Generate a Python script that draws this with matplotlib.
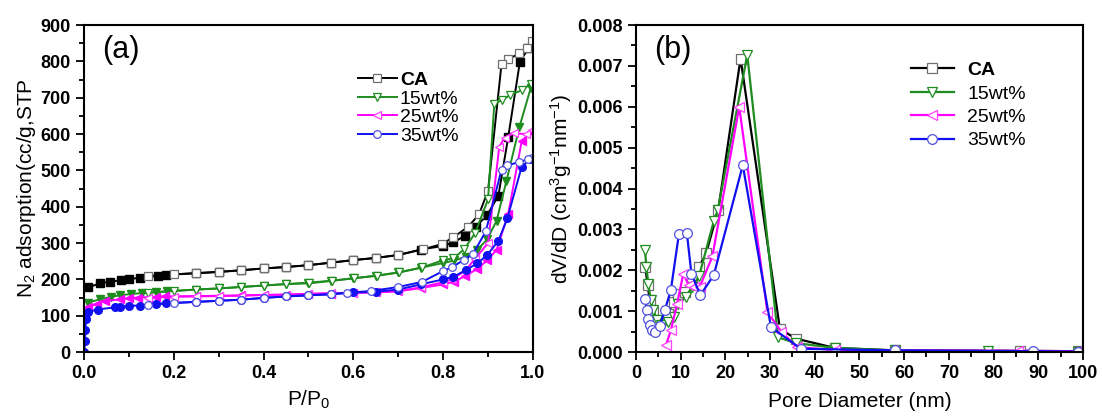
import matplotlib
matplotlib.use("Agg")
import matplotlib.pyplot as plt
import matplotlib.ticker as mticker

plt.rcParams['font.family'] = ['Liberation Sans', 'DejaVu Sans']
plt.rcParams['mathtext.fontset'] = 'custom'
plt.rcParams['mathtext.rm'] = 'Liberation Sans'
plt.rcParams['mathtext.it'] = 'Liberation Sans:italic'
plt.rcParams['mathtext.bf'] = 'Liberation Sans:bold'
plt.rcParams['mathtext.default'] = 'regular'

# ---- (a) isotermas N2: adsorcion (relleno) y desorcion (abierto) ----
mid_x = [0.25, 0.30, 0.35, 0.40, 0.45, 0.50, 0.55, 0.60, 0.65, 0.70, 0.75]

ca_ads_x = [0.01, 0.035, 0.057, 0.083, 0.10, 0.125, 0.164, 0.183] + mid_x + \
    [0.80, 0.823, 0.849, 0.873, 0.898, 0.923, 0.945, 0.971, 0.99]
ca_ads_y = [178, 189, 193, 198, 200, 205, 209, 212,
            217, 221, 225, 230, 234, 239, 246, 253, 259, 267, 282,
            292, 302, 320, 345, 377, 430, 592, 799, 836]
ca_des_x = [0.998, 0.987, 0.970, 0.945, 0.930, 0.90, 0.88, 0.856, 0.823, 0.797, 0.756,
            0.70, 0.65, 0.60, 0.55, 0.50, 0.45, 0.40, 0.35, 0.30, 0.25, 0.20, 0.143]
ca_des_y = [857, 838, 822, 806, 792, 444, 379, 345, 316, 297, 283,
            267, 259, 253, 246, 239, 234, 230, 225, 220, 217, 214, 209]

w15_ads_x = [0.01, 0.035, 0.06, 0.08, 0.105, 0.13, 0.16, 0.185] + mid_x + \
    [0.80, 0.825, 0.85, 0.875, 0.898, 0.919, 0.941, 0.97, 0.995]
w15_ads_y = [136, 145, 152, 156, 160, 162, 165, 167,
             172, 175, 179, 183, 187, 191, 196, 203, 210, 219, 232,
             245, 252, 262, 280, 310, 361, 471, 620, 726]
w15_des_x = [0.996, 0.976, 0.949, 0.931, 0.914, 0.90, 0.871, 0.847, 0.823, 0.80, 0.754,
             0.702, 0.653, 0.602, 0.552, 0.502, 0.45, 0.40, 0.35, 0.30, 0.25, 0.20, 0.143]
w15_des_y = [739, 721, 707, 693, 684, 420, 327, 283, 258, 253, 233,
             219, 210, 203, 196, 189, 187, 183, 179, 175, 172, 168, 163]

w25_ads_x = [0.01, 0.03, 0.046, 0.08, 0.10, 0.12, 0.16, 0.18] + mid_x + \
    [0.80, 0.825, 0.849, 0.875, 0.898, 0.919, 0.945, 0.975, 0.995]
w25_ads_y = [125, 133, 140, 145, 148, 150, 152, 153,
             154, 155, 156, 157, 158, 160, 161, 163, 164, 167, 176,
             186, 194, 209, 228, 252, 281, 380, 581, 605]
w25_des_x = [0.997, 0.984, 0.957, 0.937, 0.925, 0.90, 0.87, 0.85, 0.82, 0.80, 0.75,
             0.70, 0.65, 0.60, 0.55, 0.50, 0.45, 0.40, 0.35, 0.30, 0.25, 0.20, 0.143]
w25_des_y = [611, 600, 602, 590, 565, 300, 255, 225, 200, 192, 178,
             168, 164, 163, 162, 160, 158, 157, 155, 154, 153, 152, 150]

w35_ads_x = [0.001, 0.002, 0.003, 0.005, 0.01, 0.031, 0.068, 0.08, 0.10, 0.124, 0.161, 0.183] + \
    mid_x + [0.80, 0.823, 0.851, 0.876, 0.898, 0.923, 0.943, 0.975, 0.995]
w35_ads_y = [0, 30, 60, 90, 111, 117, 123, 125, 127, 128, 133, 134,
             138, 141, 144, 149, 153, 156, 159, 164, 166, 172, 186,
             200, 207, 226, 244, 267, 306, 368, 510, 532]
w35_des_x = [0.998, 0.988, 0.97, 0.943, 0.93, 0.895, 0.867, 0.847, 0.82, 0.80, 0.753,
             0.70, 0.64, 0.585, 0.55, 0.50, 0.45, 0.40, 0.35, 0.30, 0.25, 0.20, 0.143]
w35_des_y = [535, 530, 523, 514, 502, 332, 271, 254, 234, 223, 193,
             179, 168, 163, 159, 156, 153, 149, 144, 141, 138, 135, 130]

# ---- (b) distribucion de poros ----
ca_d = [2.1, 2.6, 3.1, 3.7, 4.3, 5.7, 7.1, 8.4, 9.4, 11.0, 12.5, 14.1, 15.7, 18.4,
        23.4, 32.2, 35.7, 44.5, 58.0, 86.0, 99.0]
ca_v = [0.00208, 0.00163, 0.00127, 0.00098, 0.00078, 0.00078, 0.00094, 0.00122,
        0.00143, 0.00147, 0.00184, 0.00208, 0.00242, 0.00347, 0.00718, 0.00057,
        0.00033, 0.0001, 0.00004, 0.00003, 0.00002]
w15_d = [2.0, 2.35, 2.75, 3.3, 3.9, 4.7, 5.7, 7.1, 8.4, 9.4, 11.2, 12.5, 14.1, 17.4,
         18.3, 24.9, 31.8, 35.7, 44.5, 58.0, 78.8, 99.0]
w15_v = [0.0025, 0.00208, 0.00167, 0.00128, 0.00102, 0.00078, 0.00065, 0.00073,
         0.00086, 0.00118, 0.00135, 0.00159, 0.00185, 0.0032, 0.00347, 0.00727,
         0.00036, 0.00022, 0.0001, 0.00004, 0.00002, 0.00001]
w25_d = [6.7, 7.8, 9.2, 10.6, 11.8, 12.9, 14.3, 17.1, 23.1, 29.4, 32.5, 36.0,
         44.5, 57.6, 85.5, 99.0]
w25_v = [0.00016, 0.00053, 0.00118, 0.00192, 0.00163, 0.00159, 0.0016, 0.00234,
         0.006, 0.00098, 0.0005, 0.00012, 0.00005, 0.00004, 0.00003, 0.00002]
w35_d = [2.1, 2.5, 2.75, 3.1, 3.5, 4.2, 5.3, 6.5, 7.8, 9.6, 11.4, 12.4, 14.4, 17.4,
         23.9, 30.2, 36.9, 57.9, 88.9, 99.0]
w35_v = [0.0013, 0.00102, 0.00082, 0.00065, 0.00053, 0.00049, 0.00063, 0.00104,
         0.00151, 0.00288, 0.0029, 0.00192, 0.00139, 0.00188, 0.00457, 0.00061,
         0.00008, 0.00004, 0.00002, 0.00001]

etiquetas = ["CA", "15wt%", "25wt%", "35wt%"]
colores = ['black', '#1e8c1e', '#ff00ff', '#1010f0']
bordes = ['#707070', '#1e8c1e', '#ff40ff', '#5050e0']
marcadores = ['s', 'v', '<', 'o']

fig = plt.figure(figsize=(11.02, 4.16), dpi=100)
ax = fig.add_axes([0.0762, 0.1538, 0.4074, 0.786])
bx = fig.add_axes([0.5771, 0.1538, 0.4056, 0.786])

ads = [(ca_ads_x, ca_ads_y), (w15_ads_x, w15_ads_y), (w25_ads_x, w25_ads_y), (w35_ads_x, w35_ads_y)]
des = [(ca_des_x, ca_des_y), (w15_des_x, w15_des_y), (w25_des_x, w25_des_y), (w35_des_x, w35_des_y)]

for i in range(4):
    ax.plot(ads[i][0], ads[i][1], color=colores[i], marker=marcadores[i], markersize=5.5,
            markerfacecolor=colores[i], markeredgecolor=colores[i], linewidth=1.4)
    ax.plot(des[i][0], des[i][1], color=colores[i], marker=marcadores[i], markersize=5.5,
            markerfacecolor='white', markeredgecolor=bordes[i], markeredgewidth=0.9,
            linewidth=1.4, label=etiquetas[i])

series_b = [(ca_d, ca_v), (w15_d, w15_v), (w25_d, w25_v), (w35_d, w35_v)]
for i in range(4):
    bx.plot(series_b[i][0], series_b[i][1], color=colores[i], marker=marcadores[i], markersize=7,
            markerfacecolor='white', markeredgecolor=bordes[i], markeredgewidth=0.9,
            linewidth=1.6, label=etiquetas[i])

# ejes (a)
ax.set_xlim(0, 1.0)
ax.set_ylim(0, 900)
ax.xaxis.set_major_locator(mticker.MultipleLocator(0.2))
ax.xaxis.set_minor_locator(mticker.MultipleLocator(0.1))
ax.yaxis.set_major_locator(mticker.MultipleLocator(100))
ax.yaxis.set_minor_locator(mticker.MultipleLocator(50))
ax.xaxis.set_major_formatter(mticker.FormatStrFormatter('%.1f'))
ax.set_xlabel("P/P$_0$", fontsize=15, labelpad=5)
ax.set_ylabel("N$_2$ adsorption(cc/g,STP", fontsize=15, labelpad=2)
ax.text(0.04, 0.97, "(a)", transform=ax.transAxes, fontsize=22, va='top', ha='left')

# ejes (b)
bx.set_xlim(0, 100)
bx.set_ylim(0, 0.008)
bx.xaxis.set_major_locator(mticker.MultipleLocator(10))
bx.xaxis.set_minor_locator(mticker.MultipleLocator(5))
bx.yaxis.set_major_locator(mticker.MultipleLocator(0.001))
bx.yaxis.set_minor_locator(mticker.MultipleLocator(0.0005))
bx.yaxis.set_major_formatter(mticker.FormatStrFormatter('%.3f'))
bx.set_xlabel("Pore Diameter (nm)", fontsize=15, labelpad=7)
bx.set_ylabel("dV/dD (cm$^3$g$^{-1}$nm$^{-1}$)", fontsize=15, labelpad=2)
bx.text(0.04, 0.97, "(b)", transform=bx.transAxes, fontsize=22, va='top', ha='left')

for a in (ax, bx):
    for s in a.spines.values():
        s.set_linewidth(1.5)
    a.tick_params(which='both', direction='out', top=False, right=False, width=1.3)
    a.tick_params(which='major', length=6, labelsize=13)
    a.tick_params(which='minor', length=3.5)
    for t in a.get_xticklabels() + a.get_yticklabels():
        t.set_fontweight('bold')

leg_a = ax.legend(loc='upper left', bbox_to_anchor=(0.58, 0.90), frameon=False, fontsize=14,
                  handlelength=2.0, handletextpad=0.15, labelspacing=0.05, borderpad=0.2)
leg_a.get_texts()[0].set_fontweight('bold')
leg_b = bx.legend(loc='upper left', bbox_to_anchor=(0.585, 0.93), frameon=False, fontsize=14,
                  handlelength=2.2, handletextpad=0.7, labelspacing=0.3, borderpad=0.2)
leg_b.get_texts()[0].set_fontweight('bold')

plt.savefig("out.png", dpi=100)
